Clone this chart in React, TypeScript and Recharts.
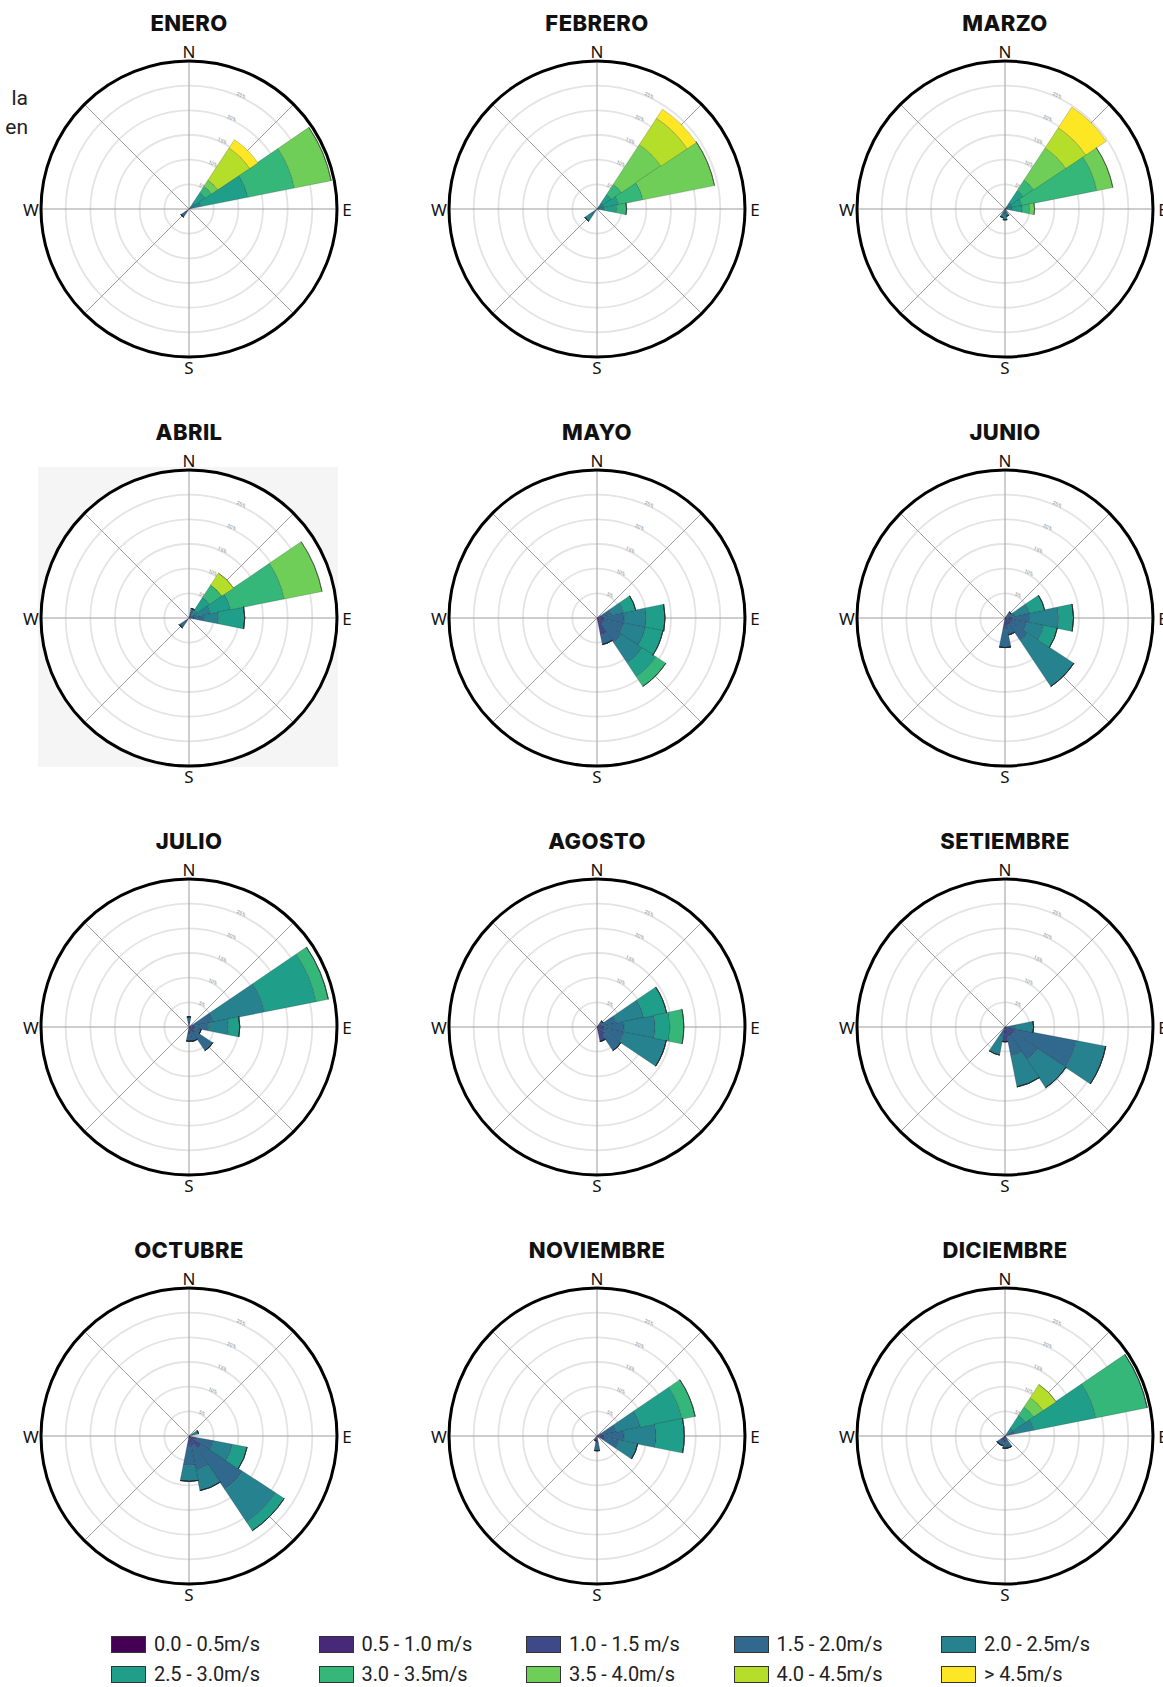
import React from "react";
import {
  RadialBarChart,
  RadialBar,
  PolarGrid,
  PolarAngleAxis,
  PolarRadiusAxis
} from "recharts";

// 16 direcciones, en sentido horario desde el norte
const DIRECTIONS = ["N", "NNE", "NE", "ENE", "E", "ESE", "SE", "SSE", "S", "SSW", "SW", "WSW", "W", "WNW", "NW", "NNW"];
const COMPASS_LABELS: Record<string, string> = { N: "N", E: "E", S: "S", W: "W" };
const SPOKE_DEGREES = [0, 45, 90, 135, 180, 225, 270, 315];

const SPEED_BINS = [
  "0.0 - 0.5m/s", "0.5 - 1.0 m/s", "1.0 - 1.5 m/s", "1.5 - 2.0m/s", "2.0 - 2.5m/s",
  "2.5 - 3.0m/s", "3.0 - 3.5m/s", "3.5 - 4.0m/s", "4.0 - 4.5m/s", "> 4.5m/s"
];
const BIN_COLORS = [
  "#440154", "#482878", "#3e4989", "#31688e", "#26828e",
  "#1f9e89", "#35b779", "#6ece58", "#b5de2b", "#fde725"
];
const RING_TICKS = [5, 10, 15, 20, 25];
const RADIUS_MAX = 29.6;

const MONTHS = ["ENERO", "FEBRERO", "MARZO", "ABRIL", "MAYO", "JUNIO", "JULIO", "AGOSTO", "SETIEMBRE", "OCTUBRE", "NOVIEMBRE", "DICIEMBRE"];

// frecuencia (%) por dirección y rango de velocidad
type Entry = [string, number[]];

const ENERO: Entry[] = [
  ["NE", [0, 0, 0, 0.5, 1, 2.5, 1.5, 1.5, 7.8, 2]],
  ["ENE", [0, 0, 0, 0.5, 2, 9.7, 9.6, 7.6, 0, 0]],
  ["SW", [0, 0, 1, 1, 0, 0, 0, 0, 0, 0]]
];
const FEBRERO: Entry[] = [
  ["NE", [0, 0, 0, 0.5, 1, 2, 2.5, 9.6, 6.4, 2.2]],
  ["ENE", [0, 0, 0, 0.5, 1, 3, 5, 14.8, 0, 0]],
  ["E", [0, 0, 0, 0.5, 1, 2.5, 2, 0, 0, 0]],
  ["SW", [0, 0, 0, 1.5, 1.5, 0, 0, 0, 0, 0]]
];
const MARZO: Entry[] = [
  ["NE", [0, 0, 0, 0.5, 1, 3, 2.5, 7.8, 4.9, 5]],
  ["ENE", [0, 0, 0, 0.5, 1, 2, 15.5, 3.3, 0, 0]],
  ["E", [0, 0, 0, 0.5, 1, 2, 1.5, 1, 0, 0]],
  ["SSE", [0, 0, 0, 1, 0.5, 0, 0, 0, 0, 0]],
  ["S", [0, 0, 0, 1, 1.2, 0, 0, 0, 0, 0]],
  ["SSW", [0, 0, 0, 1, 0.8, 0, 0, 0, 0, 0]]
];
const ABRIL: Entry[] = [
  ["NNE", [0, 0, 1, 1, 0, 0, 0, 0, 0, 0]],
  ["NE", [0, 0, 0, 0.5, 1.5, 3, 3, 0, 2.9, 0]],
  ["ENE", [0, 0, 0, 1.5, 3, 4.1, 11.1, 7.8, 0, 0]],
  ["E", [0, 0, 1, 2, 3, 5.3, 0, 0, 0, 0]],
  ["SW", [0, 0, 1, 1.4, 0, 0, 0, 0, 0, 0]]
];
const MAYO: Entry[] = [
  ["ENE", [0, 0, 1, 2, 2.5, 2.5, 0, 0, 0, 0]],
  ["E", [0, 0, 1.5, 4, 4.5, 3.8, 0, 0, 0, 0]],
  ["ESE", [0, 0, 1.5, 4, 4.5, 3.6, 0, 0, 0, 0]],
  ["SE", [0, 0, 1.5, 4.5, 5, 3.3, 2.4, 0, 0, 0]],
  ["SSE", [0, 1, 2.5, 2, 0, 0, 0, 0, 0, 0]]
];
const JUNIO: Entry[] = [
  ["NE", [0, 0, 0, 1.5, 0, 0, 0, 0, 0, 0]],
  ["ENE", [0, 0, 0, 2, 3, 3.2, 0, 0, 0, 0]],
  ["E", [0, 0, 1.5, 3.5, 5.9, 3, 0, 0, 0, 0]],
  ["ESE", [0, 0, 1.5, 3, 3.5, 2.8, 0, 0, 0, 0]],
  ["SE", [0, 0, 1.5, 4, 11.2, 0, 0, 0, 0, 0]],
  ["SSE", [0, 0, 1.5, 2, 0, 0, 0, 0, 0, 0]],
  ["S", [0, 0, 2, 4, 0, 0, 0, 0, 0, 0]]
];
const JULIO: Entry[] = [
  ["N", [0, 0, 1, 1.1, 0, 0, 0, 0, 0, 0]],
  ["ENE", [0, 0, 1, 4, 10.6, 10.7, 2.5, 0, 0, 0]],
  ["E", [0, 0, 1, 3, 4, 2.3, 0, 0, 0, 0]],
  ["ESE", [0, 0, 1, 1.5, 0, 0, 0, 0, 0, 0]],
  ["SE", [0, 0, 1.5, 4.3, 0, 0, 0, 0, 0, 0]],
  ["SSE", [0, 0, 1, 2, 0, 0, 0, 0, 0, 0]],
  ["S", [0, 0, 1.5, 1.4, 0, 0, 0, 0, 0, 0]]
];
const AGOSTO: Entry[] = [
  ["NE", [0, 0, 0.5, 1, 0, 0, 0, 0, 0, 0]],
  ["ENE", [0, 0, 1, 3, 5.7, 4.7, 0, 0, 0, 0]],
  ["E", [0, 0, 1.5, 4, 6.3, 3, 2.8, 0, 0, 0]],
  ["ESE", [0, 0, 1.5, 4, 8.8, 0, 0, 0, 0, 0]],
  ["SE", [0, 0, 2, 3.8, 0, 0, 0, 0, 0, 0]],
  ["SSE", [0, 1, 2, 0, 0, 0, 0, 0, 0, 0]]
];
const SETIEMBRE: Entry[] = [
  ["E", [0, 0, 0, 2, 3.8, 0, 0, 0, 0, 0]],
  ["ESE", [0, 0, 2, 12.7, 6.1, 0, 0, 0, 0, 0]],
  ["SE", [0, 0, 2, 6, 6.8, 0, 0, 0, 0, 0]],
  ["SSE", [0, 0, 2, 4, 6.4, 0, 0, 0, 0, 0]],
  ["S", [0, 1, 2, 0, 0, 0, 0, 0, 0, 0]],
  ["SSW", [0, 0, 0, 2, 3.8, 0, 0, 0, 0, 0]]
];
const OCTUBRE: Entry[] = [
  ["ENE", [0, 0, 0, 1, 1, 0, 0, 0, 0, 0]],
  ["ESE", [0, 0, 1.5, 3.5, 4, 3, 0, 0, 0, 0]],
  ["SE", [0, 1, 2, 10, 8, 2.1, 0, 0, 0, 0]],
  ["SSE", [0, 0, 2, 5, 4.3, 0, 0, 0, 0, 0]],
  ["S", [0, 0, 2, 4, 3.2, 0, 0, 0, 0, 0]]
];
const NOVIEMBRE: Entry[] = [
  ["ENE", [0, 0, 1, 3, 5, 8.6, 2.7, 0, 0, 0]],
  ["E", [0, 0, 1.5, 4, 6.5, 5.7, 0, 0, 0, 0]],
  ["ESE", [0, 0, 1.5, 3, 3.9, 0, 0, 0, 0, 0]],
  ["S", [0, 0, 1.5, 1.5, 0, 0, 0, 0, 0, 0]],
  ["SSW", [0, 0, 1, 0, 0, 0, 0, 0, 0, 0]]
];
const DICIEMBRE: Entry[] = [
  ["NE", [0, 0, 0, 0, 2, 3, 2, 2.3, 3.2, 0]],
  ["ENE", [0, 0, 0, 2, 4, 12.8, 10.6, 0, 0, 0]],
  ["SSE", [0, 0, 1, 1.5, 0, 0, 0, 0, 0, 0]],
  ["S", [0, 0, 1, 1.5, 0, 0, 0, 0, 0, 0]],
  ["SSW", [0, 0, 1, 1, 0, 0, 0, 0, 0, 0]],
  ["SW", [0, 0, 1, 1, 0, 0, 0, 0, 0, 0]]
];

const MONTH_DATA = [ENERO, FEBRERO, MARZO, ABRIL, MAYO, JUNIO, JULIO, AGOSTO, SETIEMBRE, OCTUBRE, NOVIEMBRE, DICIEMBRE];

// layout
const COL_X = [189, 597, 1005];
const ROW_Y = [209, 618, 1027, 1436];
const R = 148;
const BOX = 340;
const SECTOR = 360 / DIRECTIONS.length;
// recharts pone el primer sector en [start, start + SECTOR]; se centra el norte en 90°
const START_ANGLE = 90 - SECTOR / 2;

function buildRows(entries: Entry[]) {
  return DIRECTIONS.map(dir => {
    const found = entries.find(e => e[0] === dir);
    const row: any = { dir };
    SPEED_BINS.forEach((_, i) => {
      row[`b${i}`] = found ? found[1][i] || 0 : 0;
    });
    return row;
  });
}

// los ticks de la categoría caen en el borde del sector: se giran medio sector
const CompassTick = (props: any) => {
  const { x, y, payload } = props;
  const label = COMPASS_LABELS[payload?.value];
  if (!label) return <g />;
  const c = BOX / 2;
  const r = Math.hypot(x - c, y - c);
  const a = Math.atan2(c - y, x - c) + (SECTOR / 2) * Math.PI / 180;
  return (
    <text
      x={c + r * Math.cos(a)}
      y={c - r * Math.sin(a)}
      textAnchor="middle"
      dominantBaseline="central"
      fontSize={17}
      fill="#111"
      fontFamily="'Noto Sans', sans-serif"
    >
      {label}
    </text>
  );
};

function WindRose({ entries }: { entries: Entry[] }) {
  const rows = buildRows(entries);
  const spokes = SPOKE_DEGREES.map(d => 90 - d);
  return (
    <RadialBarChart
      width={BOX}
      height={BOX}
      data={rows}
      layout="centric"
      cx={BOX / 2}
      cy={BOX / 2}
      innerRadius={0}
      outerRadius={R}
      startAngle={START_ANGLE}
      endAngle={START_ANGLE - 360}
      barCategoryGap={0}
      barGap={0}
      margin={{ top: 0, right: 0, bottom: 0, left: 0 }}
    >
      <PolarGrid gridType="circle" radialLines={false} stroke="#e4e4e4" strokeWidth={1.8} />
      <PolarGrid gridType="circle" polarAngles={spokes} polarRadius={[]} stroke="#9c9c9c" strokeWidth={1} />
      <PolarAngleAxis
        dataKey="dir"
        type="category"
        axisLineType="circle"
        axisLine={{ stroke: "#000", strokeWidth: 3 }}
        tickLine={false}
        tickSize={10}
        tick={CompassTick}
      />
      <PolarRadiusAxis
        type="number"
        domain={[0, RADIUS_MAX]}
        ticks={RING_TICKS}
        angle={67.5}
        axisLine={false}
        tickLine={false}
        tick={{ fontSize: 5, fill: "#8a8a8a" }}
        tickFormatter={(v: number) => `${v}%`}
      />
      {SPEED_BINS.map((bin, i) => (
        <RadialBar
          key={bin}
          dataKey={`b${i}`}
          stackId="v"
          fill={BIN_COLORS[i]}
          stroke="rgba(30,30,30,0.3)"
          strokeWidth={0.7}
          isAnimationActive={false}
        />
      ))}
    </RadialBarChart>
  );
}

export default function App() {
  return (
    <div
      style={{
        position: "absolute",
        left: 0,
        top: 0,
        width: 1163,
        height: 1687,
        overflow: "hidden",
        background: "#fff",
        fontFamily: "Roboto, sans-serif"
      }}
    >
      <div style={{ position: "absolute", left: 0, width: 28, top: 84, textAlign: "right", fontSize: 21, color: "#222", lineHeight: "29px" }}>
        la<br />en
      </div>
      {/* fondo gris de la imagen de abril */}
      <div style={{ position: "absolute", left: 38, top: 467, width: 300, height: 300, background: "#f5f5f5" }} />
      {MONTHS.map((m, k) => {
        const cx = COL_X[k % 3];
        const cy = ROW_Y[Math.floor(k / 3)];
        return (
          <React.Fragment key={m}>
            <div
              style={{
                position: "absolute",
                left: cx - 130,
                width: 260,
                top: cy - 198,
                textAlign: "center",
                fontFamily: "Inter, sans-serif",
                fontWeight: 800,
                fontSize: 22,
                letterSpacing: 0.4,
                lineHeight: "24px",
                color: "#111"
              }}
            >
              {m}
            </div>
            <div style={{ position: "absolute", left: cx - R, top: cy - R, width: 2 * R, height: 2 * R, borderRadius: "50%", background: "#fff" }} />
            <div style={{ position: "absolute", left: cx - BOX / 2, top: cy - BOX / 2 }}>
              <WindRose entries={MONTH_DATA[k]} />
            </div>
          </React.Fragment>
        );
      })}
      {SPEED_BINS.map((bin, i) => (
        <div
          key={bin}
          style={{
            position: "absolute",
            left: 111 + (i % 5) * 207.5,
            top: 1644 + Math.floor(i / 5) * 30 - 11,
            height: 22,
            display: "flex",
            alignItems: "center",
            fontSize: 20,
            letterSpacing: -0.1,
            whiteSpace: "pre",
            color: "#222"
          }}
        >
          <span style={{ display: "inline-block", width: 33, height: 15, background: BIN_COLORS[i], border: "1px solid #333", marginRight: 8 }} />
          {bin}
        </div>
      ))}
    </div>
  );
}
